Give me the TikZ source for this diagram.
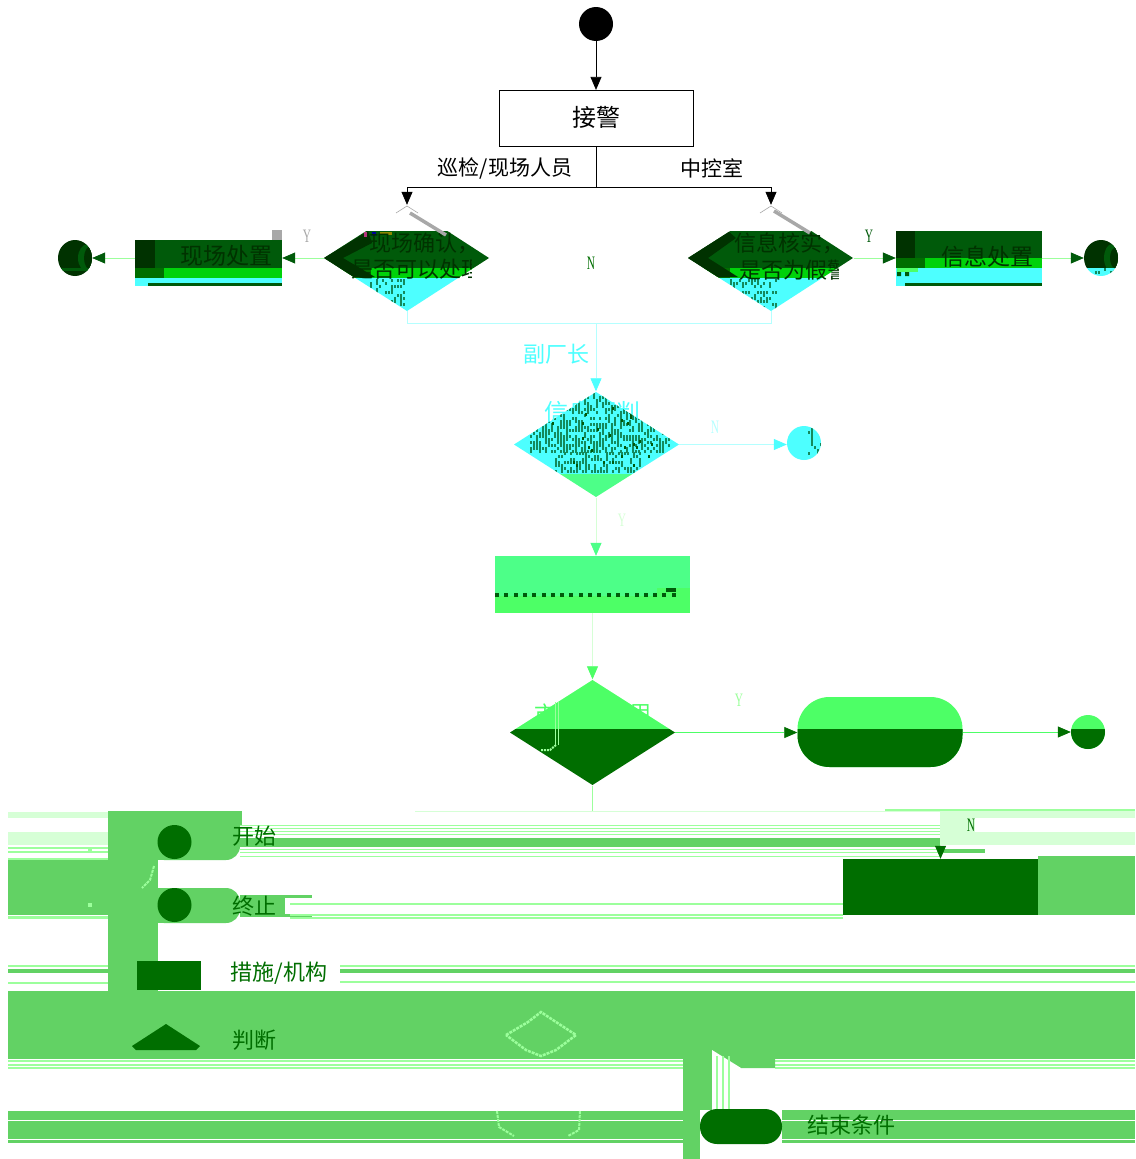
\documentclass[tikz,border=0pt]{standalone}
\usepackage{fontspec}
\setmainfont{Noto Sans CJK SC}
\newfontfamily\latf{Liberation Serif}
\usetikzlibrary{arrows.meta,shapes.geometric}
\definecolor{dkA}{HTML}{003200}
\definecolor{dkB}{HTML}{005A0A}
\definecolor{dkC}{HTML}{006E00}
\definecolor{brt}{HTML}{00D20A}
\definecolor{cy}{HTML}{4DFFFF}
\definecolor{paleC}{HTML}{B4FFFF}
\definecolor{grA}{HTML}{4DFF88}
\definecolor{grB}{HTML}{4DFF66}
\definecolor{blk}{HTML}{62D264}
\definecolor{pale}{HTML}{D6FFD6}
\definecolor{mid}{HTML}{9CFF9C}
\definecolor{grey}{HTML}{A8A8A8}
\definecolor{hat}{HTML}{148A5C}
\tikzset{
 x=1pt,y=-1pt,
 txt/.style={font=\fontsize{22}{24}\selectfont,inner sep=0pt},
 lab/.style={font=\fontsize{21}{23}\selectfont,inner sep=0pt},
 act/.style={font=\fontsize{23}{25}\selectfont,inner sep=0pt,text=dkA},
 legtxt/.style={txt,text=dkC},
 ltr/.style={font=\latf\fontsize{19}{20}\selectfont,inner sep=0pt},
 anchorbox/.style={rectangle,draw=none,inner sep=0pt,minimum width=#1},
 dia/.style={diamond,draw=none,inner sep=0pt,minimum width=165pt,minimum height=106pt},
 endpt/.style={circle,draw=none,inner sep=0pt,minimum size=34pt},
 flow/.style={line width=0.7pt,draw=#1},
 tip/.style={-{Triangle[length=13pt,width=11pt,color=#1]}},
}
\newcommand{\band}[6]{\fill[#6] (#1,#2) rectangle (#3,#4);}
\newcommand{\hatchbox}[6]{% x0 x1 y0 y1 colour probability
 \pgfmathsetmacro{\xn}{#1+3}
 \pgfmathsetmacro{\yn}{#3+3}
 \foreach \hx in {#1,\xn,...,#2}{\foreach \hy in {#3,\yn,...,#4}{
  \pgfmathparse{rnd<#6?1:0}
  \ifnum\pgfmathresult=1 \fill[#5] (\hx,\hy) rectangle ++(2,3);\fi
 }}}
\begin{document}
\begin{tikzpicture}
\pgfmathsetseed{7}
\useasboundingbox (0,0) rectangle (1135,1159);
\fill[white] (0,0) rectangle (1135,1159);
% ---- corrupted blocks behind the legend
\band{8}{812}{108}{818}{}{pale}
\band{8}{832}{108}{845}{}{pale}
\foreach \yy in {847,851,858}{\band{8}{\yy}{108}{\yy+1.5}{}{mid}}
\band{8}{860}{108}{915}{}{blk}
\band{8}{916}{108}{919}{}{mid}
\foreach \yy in {965,982}{\band{8}{\yy}{108}{\yy+1.5}{}{mid}}
\band{8}{969}{108}{973}{}{blk}
\fill[blk] (108,811) rectangle (242,825);
\fill[blk] (108,825) rectangle (158,991);
\fill[blk,rounded corners=14pt] (150,825) rectangle (240,860);
\fill[blk] (150,825) rectangle (240,845);
\fill[blk] (150,825) rectangle (200,860);
\fill[blk,rounded corners=14pt] (150,888) rectangle (240,923);
\fill[blk] (150,888) rectangle (200,923);
\band{240}{895}{312}{917}{}{blk}
\fill[white] (285,898) rectangle (312,914);
\foreach \yy in {825,828,831,834,849,852,856}{\band{240}{\yy}{940}{\yy+1.2}{}{mid}}
\band{240}{838}{940}{847}{}{blk}
\band{940}{849}{985}{853}{}{blk}
\foreach \yy in {903,914,917}{\band{290}{\yy}{843}{\yy+1.5}{}{mid}}
\band{340}{965}{1135}{967}{}{mid}
\band{340}{969}{1135}{973}{}{blk}
\band{340}{981}{1135}{982.5}{}{mid}
\band{8}{991}{1135}{1059}{}{blk}
\foreach \yy in {1060,1064,1067}{\band{8}{\yy}{683}{\yy+1.5}{}{mid}}
\foreach \yy in {1060,1064,1067}{\band{775}{\yy}{1135}{\yy+1.5}{}{mid}}
\band{683}{1059}{700}{1159}{}{blk}
\band{700}{1059}{712}{1110}{}{blk}
\fill[blk] (712,1059) -- (741,1068) -- (775,1068) -- (775,1059) -- cycle;
\fill[white] (712,1050) -- (741,1068) -- (712,1068) -- cycle;
\foreach \xx in {716,722,728}{\band{\xx}{1056}{\xx+2}{1110}{}{mid}}
\band{8}{1111}{683}{1143}{}{blk}
\band{782}{1110}{1135}{1143}{}{blk}
\foreach \yy in {1120,1139}{\band{8}{\yy}{683}{\yy+0.8}{}{white}\band{782}{\yy}{1135}{\yy+0.8}{}{white}}
\band{940}{811}{1135}{845}{}{pale}
\fill[white] (975,818) rectangle (1135,832);
\band{885}{809}{1135}{811}{}{mid}
\band{1038}{856}{1135}{915}{}{blk}
\band{415}{811}{940}{812}{}{pale}
% pale outline fragments on the green bands
\draw[mid,line width=2.5pt,dash pattern=on 3pt off 1pt] (506,1035) -- (528,1022) -- (541,1012) -- (556,1022) -- (576,1035) -- (556,1050) -- (541,1056) -- (526,1050) -- cycle;
\draw[mid,line width=2pt,dash pattern=on 3pt off 1pt] (497,1111) -- (499,1127) -- (514,1136);
\draw[mid,line width=2pt,dash pattern=on 3pt off 1pt] (580,1111) -- (579,1130) -- (568,1136);
\draw[mid,line width=2pt,dash pattern=on 3pt off 1pt] (154,866) -- (150,880) -- (142,888);
\fill[mid] (88,847) rectangle ++(4,4);
\fill[mid] (88,903) rectangle ++(4,4);
% ---- first part of the flow chart
\node[circle,fill=black,inner sep=0pt,minimum size=34pt] (start) at (596,24) {};
\node[rectangle,draw=black,line width=0.6pt,fill=white,inner sep=0pt,minimum width=194pt,minimum height=56pt] (recv) at (596,118.2) {};
\node[inner sep=0pt,font=\fontsize{24}{26}\selectfont] (recvt) at (596,117) {接警};
\coordinate (fork) at (596,187);
\coordinate (forkL) at (407,187);
\coordinate (forkR) at (771,187);
\node[lab] (lblL) at (505,168) {巡检/现场人员};
\node[lab] (lblR) at (712,168) {中控室};
% left decision
\node[dia] (d1) at (407,258) {};
\begin{scope}
\clip (324,258) -- (407,205) -- (489,258) -- (407,311) -- cycle;
\band{320}{231}{495}{268}{}{dkB}
\band{320}{268}{495}{278}{}{brt}
\band{320}{268}{371}{278}{}{dkC}
\band{320}{278}{495}{315}{}{cy}
\fill[dkA] (324,258) -- (368,231) -- (372,243) -- (343,258) -- (375,277) -- (350,277) -- cycle;
\hatchbox{370}{405}{279}{308}{hat}{0.35}
\end{scope}
\fill[magenta!70!black] (364,232) rectangle ++(3,5);
\fill[blue!60!black] (372,232) rectangle ++(4,4);
\fill[olive] (380,232) rectangle ++(12,3);
\draw[grey,line width=0.6pt] (396,213) -- (407,206) -- (418,213);
\draw[grey,line width=3.5pt] (410,213) -- (446,235);
\node[txt,text=dkA] (t1a) at (424,243) {现场确认，};
\begin{scope}
\clip (340,255) rectangle (471,285);
\node[txt,text=dkA] (t1b) at (417,269) {是否可以处理};
\end{scope}
% left action
\band{135}{240}{282}{268}{}{dkB}
\band{135}{240}{155}{268}{}{dkA}
\band{164}{268}{282}{278}{}{brt}
\band{135}{268}{164}{278}{}{dkC}
\band{135}{278}{282}{286}{}{cy}
\band{148}{283}{282}{286}{}{dkB}
\band{272}{230}{282}{240}{}{grey}
\node[inner sep=0pt,minimum width=147pt,minimum height=46pt] (a1) at (208.5,263) {};
\node[act] (a1t) at (226,256) {现场处置};
\node[endpt] (e1) at (75,258) {};
\fill[dkA] (75,258) ellipse[x radius=17,y radius=18];
\begin{scope}
\clip (75,258) ellipse[x radius=17,y radius=18];
\fill[dkB] (88,258) ellipse[x radius=10,y radius=14];
\fill[dkA] (91,258) ellipse[x radius=7,y radius=12];
\fill[dkB] (58,268) rectangle (92,271);
\end{scope}
% right decision
\node[dia] (d2) at (771,258) {};
\begin{scope}
\clip (688,258) -- (771,205) -- (853,258) -- (771,311) -- cycle;
\band{684}{231}{858}{268}{}{dkB}
\band{684}{268}{858}{278}{}{brt}
\band{684}{268}{730}{278}{}{dkC}
\band{684}{278}{858}{315}{}{cy}
\fill[dkA] (688,258) -- (728,231) -- (736,238) -- (708,258) -- (738,277) -- (714,277) -- cycle;
\hatchbox{730}{775}{279}{308}{hat}{0.35}
\end{scope}
\draw[grey,line width=0.6pt] (760,213) -- (771,206) -- (782,213);
\draw[grey,line width=3.5pt] (774,211) -- (810,233);
\node[txt,text=dkA] (t2a) at (789,243) {信息核实，};
\begin{scope}
\clip (730,255) rectangle (838,285);
\node[txt,text=dkA] (t2b) at (794,270) {是否为假警};
\end{scope}
% right action
\band{896}{231}{1042}{258}{}{dkB}
\band{896}{231}{915}{258}{}{dkA}
\band{925}{258}{1042}{268}{}{brt}
\band{896}{258}{925}{268}{}{dkC}
\band{896}{268}{1042}{286}{}{cy}
\band{905}{283}{1042}{286}{}{dkB}
\fill[grB] (897,268) rectangle (918,272);
\fill[dkB] (897,272) rectangle ++(4,4) (905,272) rectangle ++(4,4);
\node[inner sep=0pt,minimum width=146pt,minimum height=55pt] (a2) at (969,258.5) {};
\node[act] (a2t) at (987,257) {信息处置};
\node[endpt] (e2) at (1101,258) {};
\begin{scope}
\clip (1101,258) ellipse[x radius=17,y radius=18];
\band{1084}{240}{1118}{268}{}{dkA}
\fill[dkB] (1112,258) ellipse[x radius=8,y radius=14];
\fill[dkA] (1115,258) ellipse[x radius=5,y radius=10];
\band{1084}{268}{1118}{276}{}{cy}
\hatchbox{1092}{1114}{268}{273}{hat}{0.4}
\end{scope}
% connectors of first rank
\draw[flow=black,tip=black] (start) -- (recv);
\draw[flow=black] (recv) -- (fork);
\draw[flow=black] (forkL) -- (forkR);
\draw[flow=black,tip=black] (forkL) -- (d1.north);
\draw[flow=black,tip=black] (forkR) -- (d2.north);
\draw[flow=mid,tip=dkB] (d1.west) -- (a1.east |- d1.west);
\draw[flow=mid,tip=dkB] (a1.west |- e1) -- (e1.east);
\draw[flow=mid,tip=dkB] (d2.east) -- (a2.west |- d2.east);
\draw[flow=mid,tip=dkB] (a2.east |- e2) -- (e2.west);
\node[ltr,text=grey] (y1) at (307,236) {\scalebox{0.6}[1]{Y}};
\node[ltr,text=dkB] (y2) at (869,236) {\scalebox{0.6}[1]{Y}};
\node[ltr,text=dkC] (n1) at (591,263) {\scalebox{0.6}[1]{N}};
% ---- cyan part
\coordinate (joinL) at (407,323);
\coordinate (joinR) at (771,323);
\coordinate (join) at (596,323);
\node[txt,text=cy] (lblV) at (556,354) {副厂长};
\node[txt,text=cy,font=\fontsize{24}{26}\selectfont] (t3) at (592,412) {信息研判};
\node[dia] (d3) at (596,444.5) {};
\begin{scope}
\clip (514,444.5) -- (596,392) -- (679,444.5) -- (596,497) -- cycle;
\band{510}{388}{684}{474}{}{cy}
\band{510}{474}{684}{500}{}{grA}
\hatchbox{530}{670}{393}{452}{hat}{0.55}
\hatchbox{555}{640}{452}{471}{hat}{0.5}
\hatchbox{540}{665}{395}{465}{dkB}{0.025}
\end{scope}
\node[endpt,fill=cy] (e3) at (804,443) {};
\begin{scope}
\clip (804,443) circle[radius=17];
\hatchbox{808}{822}{428}{458}{hat}{0.3}
\end{scope}
\draw[flow=paleC] (d1.south) -- (joinL) -- (joinR) -- (d2.south);
\draw[flow=paleC,tip=cy] (join) -- (d3.north);
\draw[flow=paleC,tip=cy] (d3.east) -- (d3.east -| e3.west);
\node[ltr,text=paleC] (n3) at (715,427) {\scalebox{0.6}[1]{N}};
% ---- bright green part
\node[anchorbox=195pt,minimum height=57pt,fill=grA] (a3) at (592.5,584.5) {};
\band{495}{596}{690}{613}{}{grB}
\band{657}{588}{690}{596}{}{grB}
\foreach \xx in {495,504.3,...,680}{\fill[dkB] (\xx,593) rectangle ++(4,4);}
\fill[dkB] (666,588) rectangle ++(10,4);
\node[ltr,text=pale] (y3) at (622,520) {\scalebox{0.6}[1]{Y}};
\draw[flow=pale,tip=grA] (d3.south) -- (a3.north -| d3.south);
\node[txt,text=grB] (t4a) at (545,714) {市};
\node[txt,text=grB] (t4b) at (640,714) {用};
\node[dia] (d4) at (592.5,732.5) {};
\begin{scope}
\clip (510,732.5) -- (592.5,680) -- (675,732.5) -- (592.5,785) -- cycle;
\band{505}{676}{680}{729}{}{grB}
\band{505}{729}{680}{790}{}{dkC}
\end{scope}
\draw[mid,line width=0.8pt] (555,702) -- (555,745) (558,702) -- (558,745);
\draw[mid,line width=2pt,dash pattern=on 2pt off 1pt] (556,745) -- (550,750) -- (541,750);
\node[ltr,text=mid] (y4) at (739,700) {\scalebox{0.6}[1]{Y}};
\node[rectangle,rounded corners=32pt,fill=grB,inner sep=0pt,minimum width=165pt,minimum height=70pt] (act4) at (880,732) {};
\begin{scope}
\clip (797.5,729) rectangle (962.5,770);
\node[rectangle,rounded corners=32pt,fill=dkC,inner sep=0pt,minimum width=165pt,minimum height=70pt] (act4b) at (880,732) {};
\end{scope}
\node[endpt,fill=grB] (e4) at (1088,732) {};
\begin{scope}
\clip (1071,729) rectangle (1106,752);
\fill[dkC] (1088,732) circle[radius=17];
\end{scope}
\coordinate (d4top) at (592.5,613);
\draw[flow=pale,tip=grB] (d4top) -- (d4.north);
\draw[flow=grB,tip=dkC] (d4.east) -- (d4.east -| act4.west);
\draw[flow=grB,tip=dkC] (act4.east) -- (e4.west);
\coordinate (down4) at (592.5,811);
\draw[flow=mid] (d4.south) -- (down4);
% ---- lower action and its entry
\node[anchorbox=195pt,minimum height=56pt,fill=dkC] (a5) at (940.5,887) {};
\coordinate (n5in) at (940.5,845);
\draw[flow=pale,tip=dkC] (n5in) -- (a5.north);
\node[ltr,text=dkC] (n5) at (971,825) {\scalebox{0.6}[1]{N}};
% ---- legend
\node[endpt,fill=dkC] (l1) at (174.5,842) {};
\node[legtxt] (l1t) at (254,836) {开始};
\node[endpt,fill=dkC] (l2) at (174.5,905) {};
\node[legtxt] (l2t) at (254,906) {终止};
\node[anchorbox=64pt,minimum height=29pt,fill=dkC] (l3) at (169,975.5) {};
\node[legtxt] (l3t) at (279,973) {措施/机构};
\fill[dkC] (132,1046) -- (166,1024) -- (200,1046) -- (196,1050) -- (136,1050) -- cycle;
\node[legtxt] (l4t) at (254,1040) {判断};
\node[rectangle,rounded corners=17pt,fill=dkC,inner sep=0pt,minimum width=82pt,minimum height=35pt] (l5) at (741,1126.5) {};
\node[legtxt] (l5t) at (851,1125) {结束条件};
\end{tikzpicture}
\end{document}
